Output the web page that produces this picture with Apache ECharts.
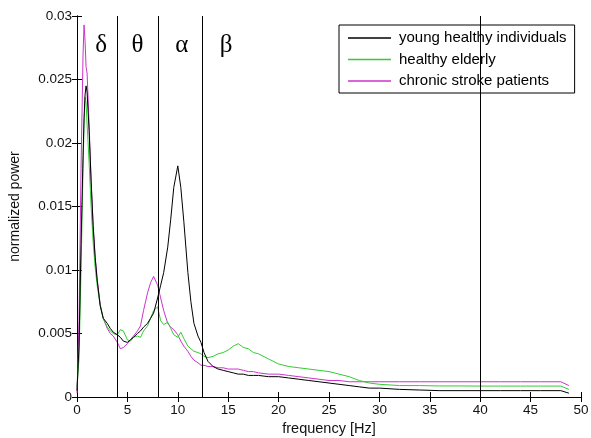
<!DOCTYPE html>
<html><head><meta charset="utf-8">
<script src="https://cdn.jsdelivr.net/npm/echarts@6/dist/echarts.min.js"></script>
<style>html,body{margin:0;padding:0;background:#fff}#c{width:591px;height:438px}</style>
</head><body><div id="c"></div>
<script>
var freq = [0,0.2,0.4,0.6,0.7,0.8,0.9,1.0,1.2,1.4,1.6,1.8,2.0,2.3,2.6,3.0,3.3,3.6,4.0,4.3,4.6,5.0,5.3,5.6,6.0,6.3,6.6,7.0,7.3,7.6,8.0,8.3,8.6,9.0,9.3,9.6,10.0,10.3,10.6,11.0,11.3,11.6,12.0,12.3,12.6,13.0,13.5,14,14.5,15,15.5,16,16.5,17,17.5,18,19,20,21,22,23,24,25,26,27,28,29,30,32,34,36,38,40,42,44,46,48,48.8];
var young = [0.0005,0.004,0.012,0.019,0.022,0.0238,0.0245,0.024,0.021,0.017,0.0135,0.011,0.0092,0.0072,0.0062,0.0058,0.0054,0.0051,0.0049,0.0047,0.0044,0.0043,0.0045,0.0047,0.0050,0.0052,0.0055,0.0058,0.0062,0.0066,0.0078,0.0088,0.0098,0.0118,0.0140,0.0165,0.0182,0.0165,0.0138,0.0098,0.0075,0.0058,0.0048,0.0043,0.0035,0.0028,0.0024,0.0022,0.0021,0.0020,0.0019,0.0018,0.0018,0.0017,0.0017,0.0017,0.0016,0.0016,0.0015,0.0014,0.0013,0.0012,0.0011,0.0010,0.0009,0.0008,0.0007,0.0007,0.0006,0.00055,0.0005,0.0005,0.0005,0.0005,0.0005,0.0005,0.0005,0.0003];
var elderly = [0.0008,0.003,0.010,0.018,0.0215,0.0236,0.0232,0.0215,0.0185,0.0150,0.0122,0.0102,0.0088,0.0072,0.0062,0.0055,0.0052,0.0050,0.0049,0.0053,0.0052,0.0045,0.0044,0.0047,0.0048,0.0047,0.0052,0.0056,0.0062,0.0068,0.0071,0.0060,0.0057,0.0059,0.0054,0.0049,0.0047,0.0051,0.0046,0.0040,0.0038,0.0036,0.0035,0.0034,0.0032,0.0031,0.0032,0.0034,0.0035,0.0037,0.0040,0.0042,0.0039,0.0038,0.0035,0.0034,0.0030,0.0026,0.0024,0.0023,0.0022,0.0021,0.0020,0.0018,0.0016,0.0013,0.0011,0.0010,0.0009,0.0009,0.00087,0.00087,0.00086,0.00086,0.00086,0.00086,0.00086,0.0006];
var stroke = [0.0003,0.006,0.018,0.027,0.0293,0.028,0.026,0.0255,0.0215,0.017,0.0135,0.0110,0.0093,0.0073,0.0062,0.0054,0.0050,0.0048,0.0043,0.0038,0.0039,0.0042,0.0045,0.0048,0.0052,0.0056,0.0068,0.0082,0.0090,0.0095,0.0088,0.0078,0.0068,0.0058,0.0055,0.0053,0.0049,0.0044,0.0040,0.0036,0.0032,0.0029,0.0027,0.0025,0.0025,0.0024,0.0024,0.0023,0.0023,0.0022,0.0022,0.0022,0.0021,0.0020,0.0020,0.0019,0.0018,0.0018,0.0017,0.0016,0.0015,0.0014,0.0013,0.0013,0.0012,0.0012,0.0012,0.0012,0.0012,0.0012,0.0012,0.0012,0.0012,0.0012,0.0012,0.0012,0.0012,0.0009];
var seriesNames = ['young healthy individuals','healthy elderly','chronic stroke patients'];
var seriesColors = ['#000000','#33cc33','#cc33cc'];
var bandEdges = [4, 8.1, 12.4, 40];
var bandLabels = ['δ','θ','α','β'];
var bandLabelX = [2.4, 6.0, 10.4, 14.8];
var bandLabelY = 0.0277;

function pairs(v){ return freq.map(function(f,i){ return [f, v[i]]; }); }
var chart = echarts.init(document.getElementById('c'));
var FONT = 'Liberation Sans, Arial';
var axisFont = {fontFamily:FONT, fontSize:13.5, color:'#111'};
var tick = {show:true, inside:true, length:5, lineStyle:{color:'#000', width:1}};
chart.setOption({
  animation:false,
  backgroundColor:'#fff',
  grid:{left:77, right:10, top:16, bottom:41, containLabel:false, outerBoundsMode:'none'},
  legend:{
    data:seriesNames.map(function(n,i){
      return {name:n, icon:'rect', itemStyle:{color:seriesColors[i], borderWidth:0}};
    }),
    orient:'vertical', left:339, top:25,
    backgroundColor:'#fff', borderColor:'#000', borderWidth:1, borderRadius:0,
    padding:[5,8,4,9], itemWidth:43, itemHeight:1.5, itemGap:5.5,
    textStyle:{fontFamily:FONT, fontSize:15, lineHeight:16, color:'#000', padding:[0,0,0,3]}
  },
  xAxis:[{
    type:'value', min:0, max:50, interval:5, position:'bottom',
    name:'frequency [Hz]', nameLocation:'middle', nameGap:24,
    nameTextStyle:{fontFamily:FONT, fontSize:14.5, color:'#111'},
    axisLine:{lineStyle:{color:'#000'}}, axisTick:tick,
    axisLabel:Object.assign({margin:6}, axisFont), splitLine:{show:false}
  },{
    type:'value', min:0, max:50, interval:5, position:'top',
    axisLine:{lineStyle:{color:'#000'}}, axisTick:tick,
    axisLabel:{show:false}, splitLine:{show:false}
  }],
  yAxis:[{
    type:'value', min:0, max:0.03, interval:0.005, position:'left',
    name:'normalized power', nameLocation:'middle', nameGap:55, nameRotate:90,
    nameTextStyle:{fontFamily:FONT, fontSize:14, color:'#111'},
    axisLine:{show:true, lineStyle:{color:'#000'}}, axisTick:tick,
    axisLabel:Object.assign({margin:5, formatter:function(v){return String(+v.toFixed(3));}}, axisFont), splitLine:{show:false}
  },{
    type:'value', min:0, max:0.03, interval:0.005, position:'right',
    axisLine:{show:true, lineStyle:{color:'#000'}}, axisTick:tick,
    axisLabel:{show:false}, splitLine:{show:false}
  }],
  series:[
    {name:seriesNames[0], type:'line', data:pairs(young), symbol:'none', z:4,
     lineStyle:{color:seriesColors[0], width:1}, itemStyle:{color:seriesColors[0]},
     markLine:{silent:true, symbol:'none', label:{show:false},
       lineStyle:{color:'#000', width:1, type:'solid'},
       data:bandEdges.map(function(x){return {xAxis:x};})},
     markPoint:{silent:true, symbol:'circle', symbolSize:1, itemStyle:{color:'rgba(0,0,0,0)'},
       label:{show:true, position:'inside', color:'#000', fontFamily:'Liberation Serif, Times New Roman', fontSize:25, formatter:'{b}'},
       data:bandLabels.map(function(t,i){return {name:t, coord:[bandLabelX[i], bandLabelY]};})}
    },
    {name:seriesNames[1], type:'line', data:pairs(elderly), symbol:'none', z:3,
     lineStyle:{color:seriesColors[1], width:1}, itemStyle:{color:seriesColors[1]}},
    {name:seriesNames[2], type:'line', data:pairs(stroke), symbol:'none', z:2,
     lineStyle:{color:seriesColors[2], width:1}, itemStyle:{color:seriesColors[2]}}
  ]
});
</script></body></html>
